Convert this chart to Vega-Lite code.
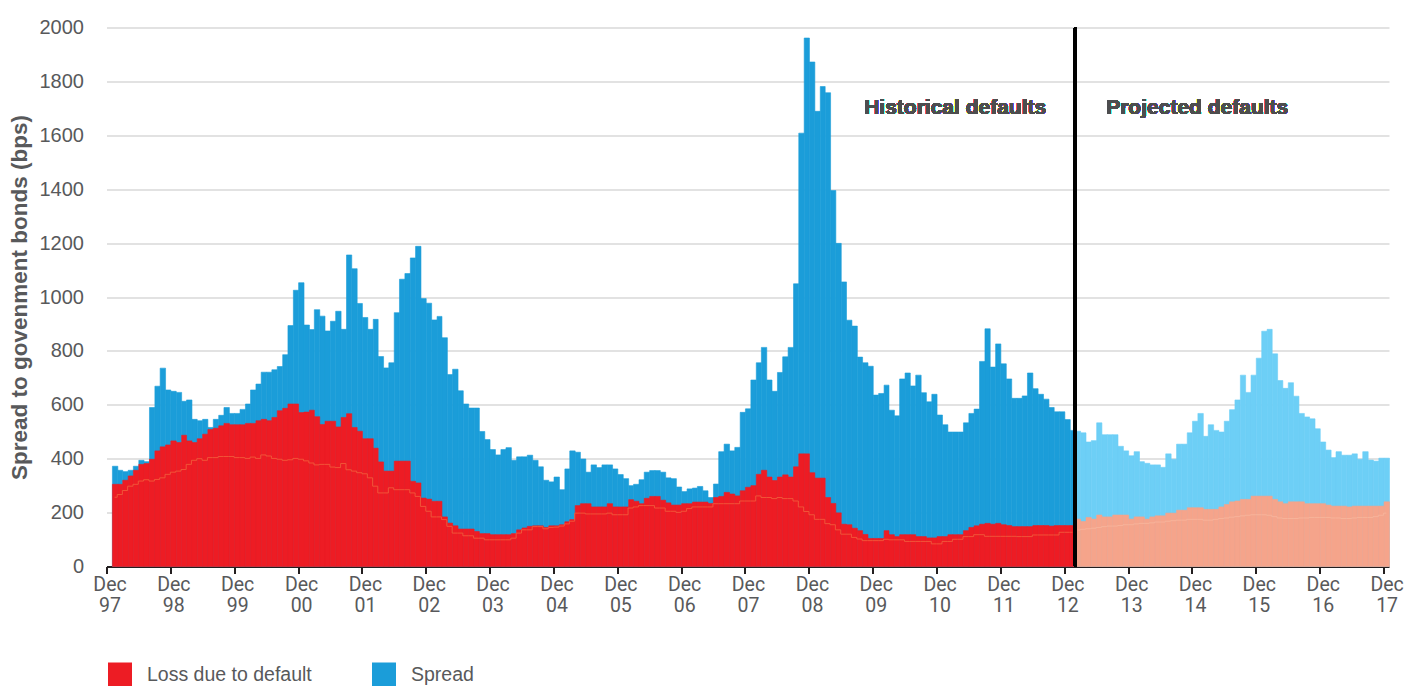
{
"$schema": "https://vega.github.io/schema/vega-lite/v6.json",
"width": 1282.5,
"height": 539,
"autosize": {"type": "none"},
"padding": {"left": 106.5, "top": 27.5, "right": 18, "bottom": 119.5},
"background": "white",
"config": {
  "view": {"stroke": null},
  "font": "Liberation Sans",
  "axisY": {"grid": true, "gridColor": "#D9D9D9", "gridWidth": 1.5, "domain": false, "ticks": false, "labelFontSize": 20, "labelColor": "#58595B", "labelPadding": 23, "tickCount": 10, "format": "d", "titleFontSize": 22.5, "titleFontWeight": "bold", "titleColor": "#58595B", "titleX": -80, "titleY": 269.5, "titleAngle": -90, "titleAlign": "center", "titleBaseline": "alphabetic"},
  "legend": {"orient": "none", "legendX": 1.5, "legendY": 635, "direction": "horizontal", "columns": 2, "symbolType": "square", "symbolSize": 576, "symbolStrokeWidth": 0, "symbolOpacity": 1, "labelFontSize": 19.5, "labelColor": "#58595B", "labelOffset": 15, "columnPadding": 60, "padding": 0, "labelLimit": 400}
},
"data": {"values": [
{"date":"1998-01-01","spread":372,"loss":305,"loss2":257,"period":"Historical"},
{"date":"1998-02-01","spread":357,"loss":305,"loss2":267,"period":"Historical"},
{"date":"1998-03-01","spread":352,"loss":320,"loss2":282,"period":"Historical"},
{"date":"1998-04-01","spread":357,"loss":336,"loss2":298,"period":"Historical"},
{"date":"1998-05-01","spread":372,"loss":357,"loss2":305,"period":"Historical"},
{"date":"1998-06-01","spread":394,"loss":379,"loss2":317,"period":"Historical"},
{"date":"1998-07-01","spread":389,"loss":382,"loss2":322,"period":"Historical"},
{"date":"1998-08-01","spread":590,"loss":398,"loss2":317,"period":"Historical"},
{"date":"1998-09-01","spread":669,"loss":429,"loss2":323,"period":"Historical"},
{"date":"1998-10-01","spread":736,"loss":444,"loss2":329,"period":"Historical"},
{"date":"1998-11-01","spread":655,"loss":451,"loss2":342,"period":"Historical"},
{"date":"1998-12-01","spread":650,"loss":466,"loss2":350,"period":"Historical"},
{"date":"1999-01-01","spread":646,"loss":460,"loss2":354,"period":"Historical"},
{"date":"1999-02-01","spread":613,"loss":487,"loss2":360,"period":"Historical"},
{"date":"1999-03-01","spread":618,"loss":466,"loss2":379,"period":"Historical"},
{"date":"1999-04-01","spread":546,"loss":460,"loss2":394,"period":"Historical"},
{"date":"1999-05-01","spread":541,"loss":474,"loss2":400,"period":"Historical"},
{"date":"1999-06-01","spread":546,"loss":491,"loss2":394,"period":"Historical"},
{"date":"1999-07-01","spread":516,"loss":508,"loss2":404,"period":"Historical"},
{"date":"1999-08-01","spread":546,"loss":513,"loss2":404,"period":"Historical"},
{"date":"1999-09-01","spread":561,"loss":522,"loss2":408,"period":"Historical"},
{"date":"1999-10-01","spread":590,"loss":531,"loss2":408,"period":"Historical"},
{"date":"1999-11-01","spread":568,"loss":526,"loss2":408,"period":"Historical"},
{"date":"1999-12-01","spread":568,"loss":526,"loss2":404,"period":"Historical"},
{"date":"2000-01-01","spread":583,"loss":526,"loss2":404,"period":"Historical"},
{"date":"2000-02-01","spread":603,"loss":531,"loss2":401,"period":"Historical"},
{"date":"2000-03-01","spread":655,"loss":531,"loss2":406,"period":"Historical"},
{"date":"2000-04-01","spread":677,"loss":541,"loss2":401,"period":"Historical"},
{"date":"2000-05-01","spread":721,"loss":546,"loss2":414,"period":"Historical"},
{"date":"2000-06-01","spread":721,"loss":541,"loss2":410,"period":"Historical"},
{"date":"2000-07-01","spread":730,"loss":553,"loss2":401,"period":"Historical"},
{"date":"2000-08-01","spread":742,"loss":578,"loss2":398,"period":"Historical"},
{"date":"2000-09-01","spread":786,"loss":587,"loss2":394,"period":"Historical"},
{"date":"2000-10-01","spread":894,"loss":603,"loss2":396,"period":"Historical"},
{"date":"2000-11-01","spread":1025,"loss":603,"loss2":401,"period":"Historical"},
{"date":"2000-12-01","spread":1053,"loss":571,"loss2":398,"period":"Historical"},
{"date":"2001-01-01","spread":896,"loss":573,"loss2":392,"period":"Historical"},
{"date":"2001-02-01","spread":879,"loss":580,"loss2":384,"period":"Historical"},
{"date":"2001-03-01","spread":953,"loss":556,"loss2":377,"period":"Historical"},
{"date":"2001-04-01","spread":929,"loss":527,"loss2":379,"period":"Historical"},
{"date":"2001-05-01","spread":874,"loss":539,"loss2":379,"period":"Historical"},
{"date":"2001-06-01","spread":910,"loss":539,"loss2":369,"period":"Historical"},
{"date":"2001-07-01","spread":947,"loss":518,"loss2":367,"period":"Historical"},
{"date":"2001-08-01","spread":880,"loss":553,"loss2":382,"period":"Historical"},
{"date":"2001-09-01","spread":1156,"loss":567,"loss2":359,"period":"Historical"},
{"date":"2001-10-01","spread":1105,"loss":516,"loss2":354,"period":"Historical"},
{"date":"2001-11-01","spread":976,"loss":502,"loss2":348,"period":"Historical"},
{"date":"2001-12-01","spread":924,"loss":474,"loss2":344,"period":"Historical"},
{"date":"2002-01-01","spread":880,"loss":474,"loss2":329,"period":"Historical"},
{"date":"2002-02-01","spread":917,"loss":439,"loss2":298,"period":"Historical"},
{"date":"2002-03-01","spread":779,"loss":388,"loss2":273,"period":"Historical"},
{"date":"2002-04-01","spread":737,"loss":354,"loss2":273,"period":"Historical"},
{"date":"2002-05-01","spread":756,"loss":354,"loss2":292,"period":"Historical"},
{"date":"2002-06-01","spread":942,"loss":391,"loss2":285,"period":"Historical"},
{"date":"2002-07-01","spread":1066,"loss":391,"loss2":285,"period":"Historical"},
{"date":"2002-08-01","spread":1087,"loss":391,"loss2":285,"period":"Historical"},
{"date":"2002-09-01","spread":1145,"loss":316,"loss2":273,"period":"Historical"},
{"date":"2002-10-01","spread":1188,"loss":310,"loss2":260,"period":"Historical"},
{"date":"2002-11-01","spread":994,"loss":254,"loss2":223,"period":"Historical"},
{"date":"2002-12-01","spread":977,"loss":250,"loss2":205,"period":"Historical"},
{"date":"2003-01-01","spread":915,"loss":242,"loss2":184,"period":"Historical"},
{"date":"2003-02-01","spread":928,"loss":242,"loss2":184,"period":"Historical"},
{"date":"2003-03-01","spread":849,"loss":184,"loss2":174,"period":"Historical"},
{"date":"2003-04-01","spread":712,"loss":161,"loss2":149,"period":"Historical"},
{"date":"2003-05-01","spread":732,"loss":151,"loss2":124,"period":"Historical"},
{"date":"2003-06-01","spread":652,"loss":139,"loss2":124,"period":"Historical"},
{"date":"2003-07-01","spread":603,"loss":139,"loss2":114,"period":"Historical"},
{"date":"2003-08-01","spread":588,"loss":139,"loss2":114,"period":"Historical"},
{"date":"2003-09-01","spread":588,"loss":130,"loss2":105,"period":"Historical"},
{"date":"2003-10-01","spread":501,"loss":122,"loss2":105,"period":"Historical"},
{"date":"2003-11-01","spread":471,"loss":122,"loss2":99,"period":"Historical"},
{"date":"2003-12-01","spread":434,"loss":118,"loss2":99,"period":"Historical"},
{"date":"2004-01-01","spread":414,"loss":118,"loss2":99,"period":"Historical"},
{"date":"2004-02-01","spread":434,"loss":118,"loss2":99,"period":"Historical"},
{"date":"2004-03-01","spread":441,"loss":118,"loss2":99,"period":"Historical"},
{"date":"2004-04-01","spread":394,"loss":122,"loss2":105,"period":"Historical"},
{"date":"2004-05-01","spread":407,"loss":136,"loss2":124,"period":"Historical"},
{"date":"2004-06-01","spread":407,"loss":143,"loss2":136,"period":"Historical"},
{"date":"2004-07-01","spread":413,"loss":149,"loss2":136,"period":"Historical"},
{"date":"2004-08-01","spread":394,"loss":151,"loss2":148,"period":"Historical"},
{"date":"2004-09-01","spread":370,"loss":151,"loss2":148,"period":"Historical"},
{"date":"2004-10-01","spread":320,"loss":145,"loss2":140,"period":"Historical"},
{"date":"2004-11-01","spread":314,"loss":151,"loss2":145,"period":"Historical"},
{"date":"2004-12-01","spread":332,"loss":151,"loss2":146,"period":"Historical"},
{"date":"2005-01-01","spread":285,"loss":155,"loss2":150,"period":"Historical"},
{"date":"2005-02-01","spread":362,"loss":166,"loss2":158,"period":"Historical"},
{"date":"2005-03-01","spread":429,"loss":174,"loss2":168,"period":"Historical"},
{"date":"2005-04-01","spread":424,"loss":226,"loss2":198,"period":"Historical"},
{"date":"2005-05-01","spread":399,"loss":233,"loss2":198,"period":"Historical"},
{"date":"2005-06-01","spread":350,"loss":233,"loss2":195,"period":"Historical"},
{"date":"2005-07-01","spread":377,"loss":221,"loss2":195,"period":"Historical"},
{"date":"2005-08-01","spread":367,"loss":221,"loss2":195,"period":"Historical"},
{"date":"2005-09-01","spread":377,"loss":221,"loss2":195,"period":"Historical"},
{"date":"2005-10-01","spread":377,"loss":233,"loss2":198,"period":"Historical"},
{"date":"2005-11-01","spread":362,"loss":221,"loss2":192,"period":"Historical"},
{"date":"2005-12-01","spread":341,"loss":221,"loss2":192,"period":"Historical"},
{"date":"2006-01-01","spread":326,"loss":221,"loss2":192,"period":"Historical"},
{"date":"2006-02-01","spread":300,"loss":248,"loss2":217,"period":"Historical"},
{"date":"2006-03-01","spread":305,"loss":242,"loss2":221,"period":"Historical"},
{"date":"2006-04-01","spread":322,"loss":233,"loss2":226,"period":"Historical"},
{"date":"2006-05-01","spread":350,"loss":253,"loss2":226,"period":"Historical"},
{"date":"2006-06-01","spread":356,"loss":260,"loss2":226,"period":"Historical"},
{"date":"2006-07-01","spread":356,"loss":260,"loss2":217,"period":"Historical"},
{"date":"2006-08-01","spread":350,"loss":246,"loss2":217,"period":"Historical"},
{"date":"2006-09-01","spread":329,"loss":236,"loss2":205,"period":"Historical"},
{"date":"2006-10-01","spread":326,"loss":228,"loss2":205,"period":"Historical"},
{"date":"2006-11-01","spread":295,"loss":228,"loss2":201,"period":"Historical"},
{"date":"2006-12-01","spread":278,"loss":233,"loss2":205,"period":"Historical"},
{"date":"2007-01-01","spread":288,"loss":233,"loss2":215,"period":"Historical"},
{"date":"2007-02-01","spread":291,"loss":239,"loss2":221,"period":"Historical"},
{"date":"2007-03-01","spread":297,"loss":239,"loss2":221,"period":"Historical"},
{"date":"2007-04-01","spread":281,"loss":239,"loss2":221,"period":"Historical"},
{"date":"2007-05-01","spread":256,"loss":234,"loss2":221,"period":"Historical"},
{"date":"2007-06-01","spread":306,"loss":256,"loss2":233,"period":"Historical"},
{"date":"2007-07-01","spread":426,"loss":260,"loss2":233,"period":"Historical"},
{"date":"2007-08-01","spread":454,"loss":275,"loss2":233,"period":"Historical"},
{"date":"2007-09-01","spread":429,"loss":269,"loss2":233,"period":"Historical"},
{"date":"2007-10-01","spread":442,"loss":262,"loss2":233,"period":"Historical"},
{"date":"2007-11-01","spread":572,"loss":281,"loss2":243,"period":"Historical"},
{"date":"2007-12-01","spread":585,"loss":294,"loss2":243,"period":"Historical"},
{"date":"2008-01-01","spread":692,"loss":300,"loss2":243,"period":"Historical"},
{"date":"2008-02-01","spread":756,"loss":342,"loss2":262,"period":"Historical"},
{"date":"2008-03-01","spread":813,"loss":357,"loss2":256,"period":"Historical"},
{"date":"2008-04-01","spread":692,"loss":332,"loss2":256,"period":"Historical"},
{"date":"2008-05-01","spread":650,"loss":319,"loss2":252,"period":"Historical"},
{"date":"2008-06-01","spread":720,"loss":332,"loss2":256,"period":"Historical"},
{"date":"2008-07-01","spread":778,"loss":340,"loss2":252,"period":"Historical"},
{"date":"2008-08-01","spread":813,"loss":332,"loss2":252,"period":"Historical"},
{"date":"2008-09-01","spread":1049,"loss":370,"loss2":243,"period":"Historical"},
{"date":"2008-10-01","spread":1608,"loss":418,"loss2":221,"period":"Historical"},
{"date":"2008-11-01","spread":1961,"loss":418,"loss2":204,"period":"Historical"},
{"date":"2008-12-01","spread":1872,"loss":348,"loss2":192,"period":"Historical"},
{"date":"2009-01-01","spread":1689,"loss":328,"loss2":175,"period":"Historical"},
{"date":"2009-02-01","spread":1781,"loss":328,"loss2":175,"period":"Historical"},
{"date":"2009-03-01","spread":1758,"loss":256,"loss2":159,"period":"Historical"},
{"date":"2009-04-01","spread":1395,"loss":234,"loss2":155,"period":"Historical"},
{"date":"2009-05-01","spread":1199,"loss":199,"loss2":136,"period":"Historical"},
{"date":"2009-06-01","spread":1056,"loss":157,"loss2":120,"period":"Historical"},
{"date":"2009-07-01","spread":914,"loss":155,"loss2":120,"period":"Historical"},
{"date":"2009-08-01","spread":892,"loss":142,"loss2":108,"period":"Historical"},
{"date":"2009-09-01","spread":777,"loss":133,"loss2":102,"period":"Historical"},
{"date":"2009-10-01","spread":756,"loss":119,"loss2":96,"period":"Historical"},
{"date":"2009-11-01","spread":743,"loss":104,"loss2":96,"period":"Historical"},
{"date":"2009-12-01","spread":636,"loss":104,"loss2":96,"period":"Historical"},
{"date":"2010-01-01","spread":642,"loss":104,"loss2":96,"period":"Historical"},
{"date":"2010-02-01","spread":673,"loss":133,"loss2":101,"period":"Historical"},
{"date":"2010-03-01","spread":580,"loss":118,"loss2":99,"period":"Historical"},
{"date":"2010-04-01","spread":559,"loss":111,"loss2":99,"period":"Historical"},
{"date":"2010-05-01","spread":696,"loss":118,"loss2":99,"period":"Historical"},
{"date":"2010-06-01","spread":718,"loss":118,"loss2":93,"period":"Historical"},
{"date":"2010-07-01","spread":670,"loss":118,"loss2":93,"period":"Historical"},
{"date":"2010-08-01","spread":710,"loss":111,"loss2":93,"period":"Historical"},
{"date":"2010-09-01","spread":645,"loss":111,"loss2":93,"period":"Historical"},
{"date":"2010-10-01","spread":611,"loss":106,"loss2":93,"period":"Historical"},
{"date":"2010-11-01","spread":639,"loss":106,"loss2":84,"period":"Historical"},
{"date":"2010-12-01","spread":562,"loss":111,"loss2":84,"period":"Historical"},
{"date":"2011-01-01","spread":526,"loss":111,"loss2":93,"period":"Historical"},
{"date":"2011-02-01","spread":499,"loss":118,"loss2":93,"period":"Historical"},
{"date":"2011-03-01","spread":499,"loss":118,"loss2":101,"period":"Historical"},
{"date":"2011-04-01","spread":499,"loss":118,"loss2":101,"period":"Historical"},
{"date":"2011-05-01","spread":533,"loss":133,"loss2":111,"period":"Historical"},
{"date":"2011-06-01","spread":568,"loss":145,"loss2":111,"period":"Historical"},
{"date":"2011-07-01","spread":584,"loss":151,"loss2":118,"period":"Historical"},
{"date":"2011-08-01","spread":761,"loss":157,"loss2":118,"period":"Historical"},
{"date":"2011-09-01","spread":882,"loss":160,"loss2":112,"period":"Historical"},
{"date":"2011-10-01","spread":740,"loss":157,"loss2":112,"period":"Historical"},
{"date":"2011-11-01","spread":826,"loss":160,"loss2":112,"period":"Historical"},
{"date":"2011-12-01","spread":752,"loss":155,"loss2":112,"period":"Historical"},
{"date":"2012-01-01","spread":696,"loss":152,"loss2":112,"period":"Historical"},
{"date":"2012-02-01","spread":624,"loss":148,"loss2":112,"period":"Historical"},
{"date":"2012-03-01","spread":624,"loss":148,"loss2":111,"period":"Historical"},
{"date":"2012-04-01","spread":633,"loss":148,"loss2":111,"period":"Historical"},
{"date":"2012-05-01","spread":718,"loss":148,"loss2":111,"period":"Historical"},
{"date":"2012-06-01","spread":660,"loss":152,"loss2":117,"period":"Historical"},
{"date":"2012-07-01","spread":639,"loss":152,"loss2":117,"period":"Historical"},
{"date":"2012-08-01","spread":621,"loss":152,"loss2":117,"period":"Historical"},
{"date":"2012-09-01","spread":590,"loss":150,"loss2":117,"period":"Historical"},
{"date":"2012-10-01","spread":574,"loss":152,"loss2":117,"period":"Historical"},
{"date":"2012-11-01","spread":574,"loss":152,"loss2":127,"period":"Historical"},
{"date":"2012-12-01","spread":545,"loss":152,"loss2":127,"period":"Historical"},
{"date":"2013-01-01","spread":505,"loss":152,"loss2":127,"period":"Historical"},
{"date":"2013-02-01","spread":502,"loss":176,"loss2":135,"period":"Projected"},
{"date":"2013-03-01","spread":496,"loss":167,"loss2":138,"period":"Projected"},
{"date":"2013-04-01","spread":462,"loss":182,"loss2":140,"period":"Projected"},
{"date":"2013-05-01","spread":467,"loss":176,"loss2":142,"period":"Projected"},
{"date":"2013-06-01","spread":533,"loss":191,"loss2":145,"period":"Projected"},
{"date":"2013-07-01","spread":489,"loss":184,"loss2":148,"period":"Projected"},
{"date":"2013-08-01","spread":489,"loss":184,"loss2":150,"period":"Projected"},
{"date":"2013-09-01","spread":489,"loss":191,"loss2":150,"period":"Projected"},
{"date":"2013-10-01","spread":446,"loss":191,"loss2":152,"period":"Projected"},
{"date":"2013-11-01","spread":429,"loss":191,"loss2":155,"period":"Projected"},
{"date":"2013-12-01","spread":411,"loss":176,"loss2":155,"period":"Projected"},
{"date":"2014-01-01","spread":426,"loss":184,"loss2":158,"period":"Projected"},
{"date":"2014-02-01","spread":389,"loss":184,"loss2":160,"period":"Projected"},
{"date":"2014-03-01","spread":383,"loss":176,"loss2":160,"period":"Projected"},
{"date":"2014-04-01","spread":377,"loss":184,"loss2":162,"period":"Projected"},
{"date":"2014-05-01","spread":377,"loss":188,"loss2":165,"period":"Projected"},
{"date":"2014-06-01","spread":368,"loss":188,"loss2":165,"period":"Projected"},
{"date":"2014-07-01","spread":418,"loss":198,"loss2":168,"period":"Projected"},
{"date":"2014-08-01","spread":398,"loss":198,"loss2":170,"period":"Projected"},
{"date":"2014-09-01","spread":454,"loss":209,"loss2":172,"period":"Projected"},
{"date":"2014-10-01","spread":454,"loss":209,"loss2":172,"period":"Projected"},
{"date":"2014-11-01","spread":496,"loss":218,"loss2":175,"period":"Projected"},
{"date":"2014-12-01","spread":539,"loss":218,"loss2":175,"period":"Projected"},
{"date":"2015-01-01","spread":568,"loss":218,"loss2":175,"period":"Projected"},
{"date":"2015-02-01","spread":483,"loss":212,"loss2":172,"period":"Projected"},
{"date":"2015-03-01","spread":526,"loss":212,"loss2":172,"period":"Projected"},
{"date":"2015-04-01","spread":505,"loss":212,"loss2":175,"period":"Projected"},
{"date":"2015-05-01","spread":499,"loss":221,"loss2":178,"period":"Projected"},
{"date":"2015-06-01","spread":539,"loss":230,"loss2":180,"period":"Projected"},
{"date":"2015-07-01","spread":582,"loss":240,"loss2":183,"period":"Projected"},
{"date":"2015-08-01","spread":618,"loss":243,"loss2":185,"period":"Projected"},
{"date":"2015-09-01","spread":710,"loss":249,"loss2":188,"period":"Projected"},
{"date":"2015-10-01","spread":646,"loss":249,"loss2":190,"period":"Projected"},
{"date":"2015-11-01","spread":710,"loss":261,"loss2":192,"period":"Projected"},
{"date":"2015-12-01","spread":773,"loss":261,"loss2":192,"period":"Projected"},
{"date":"2016-01-01","spread":873,"loss":261,"loss2":192,"period":"Projected"},
{"date":"2016-02-01","spread":880,"loss":261,"loss2":190,"period":"Projected"},
{"date":"2016-03-01","spread":789,"loss":249,"loss2":185,"period":"Projected"},
{"date":"2016-04-01","spread":690,"loss":240,"loss2":180,"period":"Projected"},
{"date":"2016-05-01","spread":661,"loss":233,"loss2":178,"period":"Projected"},
{"date":"2016-06-01","spread":682,"loss":240,"loss2":178,"period":"Projected"},
{"date":"2016-07-01","spread":632,"loss":240,"loss2":178,"period":"Projected"},
{"date":"2016-08-01","spread":568,"loss":240,"loss2":180,"period":"Projected"},
{"date":"2016-09-01","spread":555,"loss":233,"loss2":180,"period":"Projected"},
{"date":"2016-10-01","spread":548,"loss":233,"loss2":182,"period":"Projected"},
{"date":"2016-11-01","spread":511,"loss":233,"loss2":182,"period":"Projected"},
{"date":"2016-12-01","spread":462,"loss":233,"loss2":182,"period":"Projected"},
{"date":"2017-01-01","spread":432,"loss":228,"loss2":182,"period":"Projected"},
{"date":"2017-02-01","spread":404,"loss":224,"loss2":180,"period":"Projected"},
{"date":"2017-03-01","spread":426,"loss":224,"loss2":180,"period":"Projected"},
{"date":"2017-04-01","spread":413,"loss":224,"loss2":178,"period":"Projected"},
{"date":"2017-05-01","spread":413,"loss":221,"loss2":178,"period":"Projected"},
{"date":"2017-06-01","spread":418,"loss":224,"loss2":180,"period":"Projected"},
{"date":"2017-07-01","spread":398,"loss":224,"loss2":182,"period":"Projected"},
{"date":"2017-08-01","spread":426,"loss":224,"loss2":182,"period":"Projected"},
{"date":"2017-09-01","spread":395,"loss":224,"loss2":182,"period":"Projected"},
{"date":"2017-10-01","spread":391,"loss":224,"loss2":185,"period":"Projected"},
{"date":"2017-11-01","spread":402,"loss":224,"loss2":190,"period":"Projected"},
{"date":"2017-12-01","spread":402,"loss":240,"loss2":198,"period":"Projected"}
]},
"encoding": {
  "x": {"field": "date", "type": "temporal", "timeUnit": "utcyearmonth", "title": null,
    "scale": {"type": "utc", "domain": [{"year": 1997, "month": 12, "date": 1, "utc": true}, {"year": 2018, "month": 1, "date": 1, "utc": true}]},
    "axis": {"values": [
      {"year":1997,"month":12,"date":1,"utc":true},{"year":1998,"month":12,"date":1,"utc":true},{"year":1999,"month":12,"date":1,"utc":true},
      {"year":2000,"month":12,"date":1,"utc":true},{"year":2001,"month":12,"date":1,"utc":true},{"year":2002,"month":12,"date":1,"utc":true},
      {"year":2003,"month":12,"date":1,"utc":true},{"year":2004,"month":12,"date":1,"utc":true},{"year":2005,"month":12,"date":1,"utc":true},
      {"year":2006,"month":12,"date":1,"utc":true},{"year":2007,"month":12,"date":1,"utc":true},{"year":2008,"month":12,"date":1,"utc":true},
      {"year":2009,"month":12,"date":1,"utc":true},{"year":2010,"month":12,"date":1,"utc":true},{"year":2011,"month":12,"date":1,"utc":true},
      {"year":2012,"month":12,"date":1,"utc":true},{"year":2013,"month":12,"date":1,"utc":true},{"year":2014,"month":12,"date":1,"utc":true},
      {"year":2015,"month":12,"date":1,"utc":true},{"year":2016,"month":12,"date":1,"utc":true},{"year":2017,"month":12,"date":1,"utc":true}],
      "labelExpr": "[utcFormat(datum.value, '%b'), utcFormat(datum.value, '%y')]",
      "labelFont": "Roboto", "labelFontSize": 19.5, "labelColor": "#58595B", "labelLineHeight": 21,
      "labelPadding": 2, "labelOffset": 3, "labelAngle": 0, "labelOverlap": false, "labelFlush": false,
      "tickSize": 7, "tickWidth": 2, "tickColor": "#231F20", "domainColor": "#231F20", "domainWidth": 2, "grid": false}
  }
},
"layer": [
  {"transform": [{"filter": "datum.period == 'Historical'"}],
   "mark": {"type": "bar", "binSpacing": 0, "stroke": "#1B9DD9", "strokeWidth": 0.6},
   "encoding": {
     "y": {"field": "spread", "type": "quantitative", "title": "Spread to govenment bonds (bps)", "scale": {"domain": [0, 2000], "nice": false}},
     "color": {"datum": "Spread", "scale": {"domain": ["Loss due to default", "Spread"], "range": ["#ED1C24", "#1B9DD9"]}, "legend": {"title": null}}
   }},
  {"transform": [{"filter": "datum.period == 'Projected'"}],
   "mark": {"type": "bar", "binSpacing": 0, "color": "#6DCFF6", "stroke": "#6DCFF6", "strokeWidth": 0.6},
   "encoding": {
     "y": {"field": "spread", "type": "quantitative", "title": "Spread to govenment bonds (bps)"}
   }},
  {"transform": [{"filter": "datum.period == 'Historical'"}],
   "mark": {"type": "bar", "binSpacing": 0, "stroke": "#ED1C24", "strokeWidth": 0.6},
   "encoding": {
     "y": {"field": "loss", "type": "quantitative", "title": "Spread to govenment bonds (bps)"},
     "color": {"datum": "Loss due to default"}
   }},
  {"transform": [{"filter": "datum.period == 'Projected'"}],
   "mark": {"type": "bar", "binSpacing": 0, "color": "#F5A48B", "stroke": "#F5A48B", "strokeWidth": 0.6},
   "encoding": {
     "y": {"field": "loss", "type": "quantitative", "title": "Spread to govenment bonds (bps)"}
   }},
  {"transform": [{"filter": "datum.period == 'Historical'"}],
   "mark": {"type": "line", "interpolate": "step", "strokeWidth": 1, "color": "#F25A3A", "opacity": 0.9},
   "encoding": {
     "x": {"field": "date", "type": "temporal", "timeUnit": "utcyearmonth", "bandPosition": 0.5},
     "y": {"field": "loss2", "type": "quantitative", "title": "Spread to govenment bonds (bps)"}
   }},
  {"transform": [{"filter": "datum.period == 'Projected'"}],
   "mark": {"type": "line", "interpolate": "step", "strokeWidth": 1, "color": "#F7B39A"},
   "encoding": {
     "x": {"field": "date", "type": "temporal", "timeUnit": "utcyearmonth", "bandPosition": 0.5},
     "y": {"field": "loss2", "type": "quantitative", "title": "Spread to govenment bonds (bps)"}
   }},
  {"mark": {"type": "rule", "color": "#000000", "strokeWidth": 2.5},
   "encoding": {"x": {"datum": {"year": 2013, "month": 2, "date": 1, "utc": true}, "type": "temporal"}}},
  {"mark": {"type": "text", "text": "Historical defaults", "align": "right", "baseline": "middle", "dx": -29, "fontSize": 21, "fontWeight": "bold", "color": "#4D4D4F"},
   "encoding": {"x": {"datum": {"year": 2013, "month": 2, "date": 1, "utc": true}, "type": "temporal"}, "y": {"datum": 1700, "type": "quantitative"}}},
  {"mark": {"type": "text", "text": "Projected defaults", "align": "left", "baseline": "middle", "dx": 31, "fontSize": 21, "fontWeight": "bold", "color": "#4D4D4F"},
   "encoding": {"x": {"datum": {"year": 2013, "month": 2, "date": 1, "utc": true}, "type": "temporal"}, "y": {"datum": 1700, "type": "quantitative"}}}
]
}
